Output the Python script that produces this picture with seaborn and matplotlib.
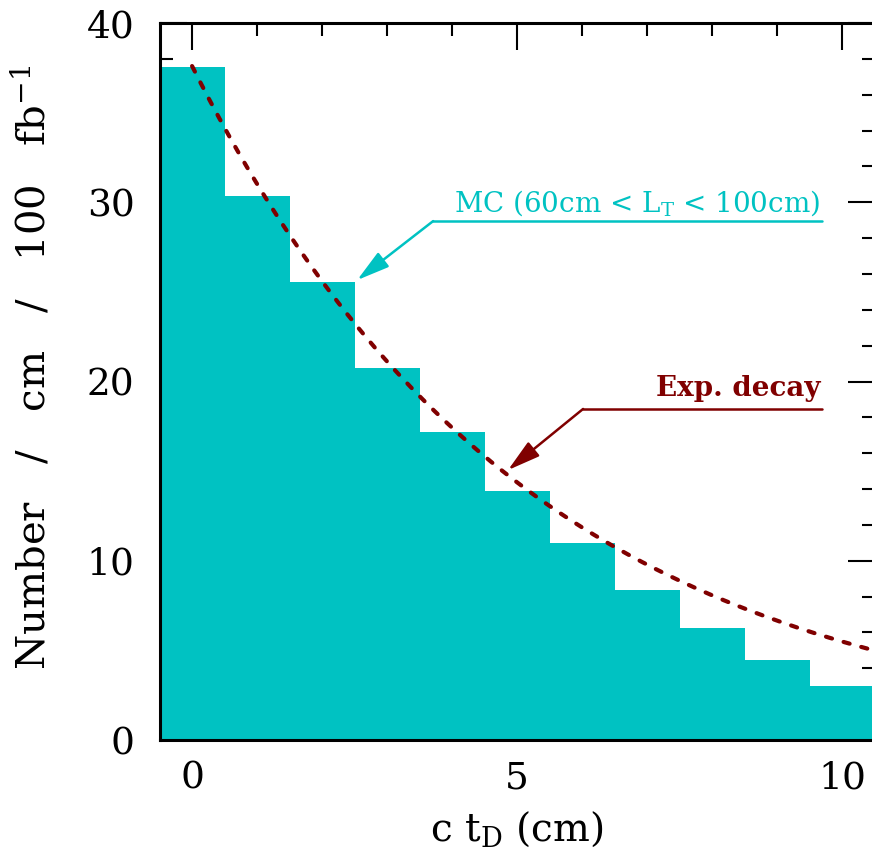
import numpy as np
import matplotlib
matplotlib.use("Agg")
import matplotlib.pyplot as plt
from matplotlib.ticker import MultipleLocator
import seaborn as sns

# histogram: one bin per cm of c*t_D
ctd_bins = [0, 1, 2, 3, 4, 5, 6, 7, 8, 9, 10]
mc_counts = [37.56, 30.37, 25.55, 20.74, 17.17, 13.89, 10.99, 8.37, 6.25, 4.46, 3.01]

# exponential decay curve parameters
decay_amp = 37.6
decay_len = 5.2

cyan = "#00c2c2"
darkred = "#800000"

sns.set_style("ticks")
plt.rcParams["font.family"] = ["DejaVu Serif"]
plt.rcParams["mathtext.fontset"] = "dejavuserif"
for k in ["text.color", "axes.labelcolor", "xtick.color", "ytick.color", "axes.edgecolor"]:
    plt.rcParams[k] = "black"

fig = plt.figure(figsize=(8.72, 8.63), dpi=100)
ax = fig.add_axes([0.183, 0.1425, 0.820, 0.8308])

sns.histplot(x=ctd_bins, weights=mc_counts, discrete=True, element="step",
             fill=True, color=cyan, alpha=1, linewidth=0, ax=ax)

xs = np.linspace(0, 10.5, 300)
ax.plot(xs, decay_amp * np.exp(-xs / decay_len), color=darkred, lw=3.0,
        linestyle=(0, (1.5, 2.9)), dash_capstyle="round")

ax.set_xlim(-0.5, 10.5)
ax.set_ylim(0, 40)
ax.xaxis.set_major_locator(MultipleLocator(5))
ax.xaxis.set_minor_locator(MultipleLocator(1))
ax.yaxis.set_major_locator(MultipleLocator(10))
ax.yaxis.set_minor_locator(MultipleLocator(2))
ax.tick_params(which="both", direction="in", top=True, right=True, width=1.5,
               labelsize=27)
ax.tick_params(which="major", length=19.5)
ax.tick_params(which="minor", length=9.5)
ax.tick_params(axis="x", pad=15)
ax.tick_params(axis="y", pad=18)
for s in ax.spines.values():
    s.set_linewidth(2.2)
    s.set_zorder(5)

ax.set_xlabel(r"c t$_\mathrm{D}$ (cm)", fontsize=28, labelpad=9)
ax.set_ylabel(r"Number   /   cm   /   100   fb$^{-1}$", fontsize=29)
ax.yaxis.set_label_coords(-0.15, 0.52)

# MC label with leader arrow
ax.text(9.66, 29.5, r"MC (60cm < L$_\mathrm{T}$ < 100cm)", color=cyan,
        fontsize=20, ha="right", va="baseline")
ax.plot([3.708, 9.69], [28.95, 28.95], color=cyan, lw=1.8)
ax.annotate("", xy=(2.54, 25.66), xytext=(3.708, 28.95),
            arrowprops=dict(arrowstyle="-|>,head_length=2.0,head_width=0.55",
                            color=cyan, lw=1.8, shrinkA=0, shrinkB=0))

# decay label with leader arrow
ax.text(9.66, 19.2, "Exp. decay", color=darkred, fontsize=20,
        fontweight="bold", ha="right", va="baseline")
ax.plot([6.015, 9.69], [18.47, 18.47], color=darkred, lw=1.8)
ax.annotate("", xy=(4.86, 15.06), xytext=(6.015, 18.47),
            arrowprops=dict(arrowstyle="-|>,head_length=2.0,head_width=0.55",
                            color=darkred, lw=1.8, shrinkA=0, shrinkB=0))

fig.savefig("out.png", dpi=100)
